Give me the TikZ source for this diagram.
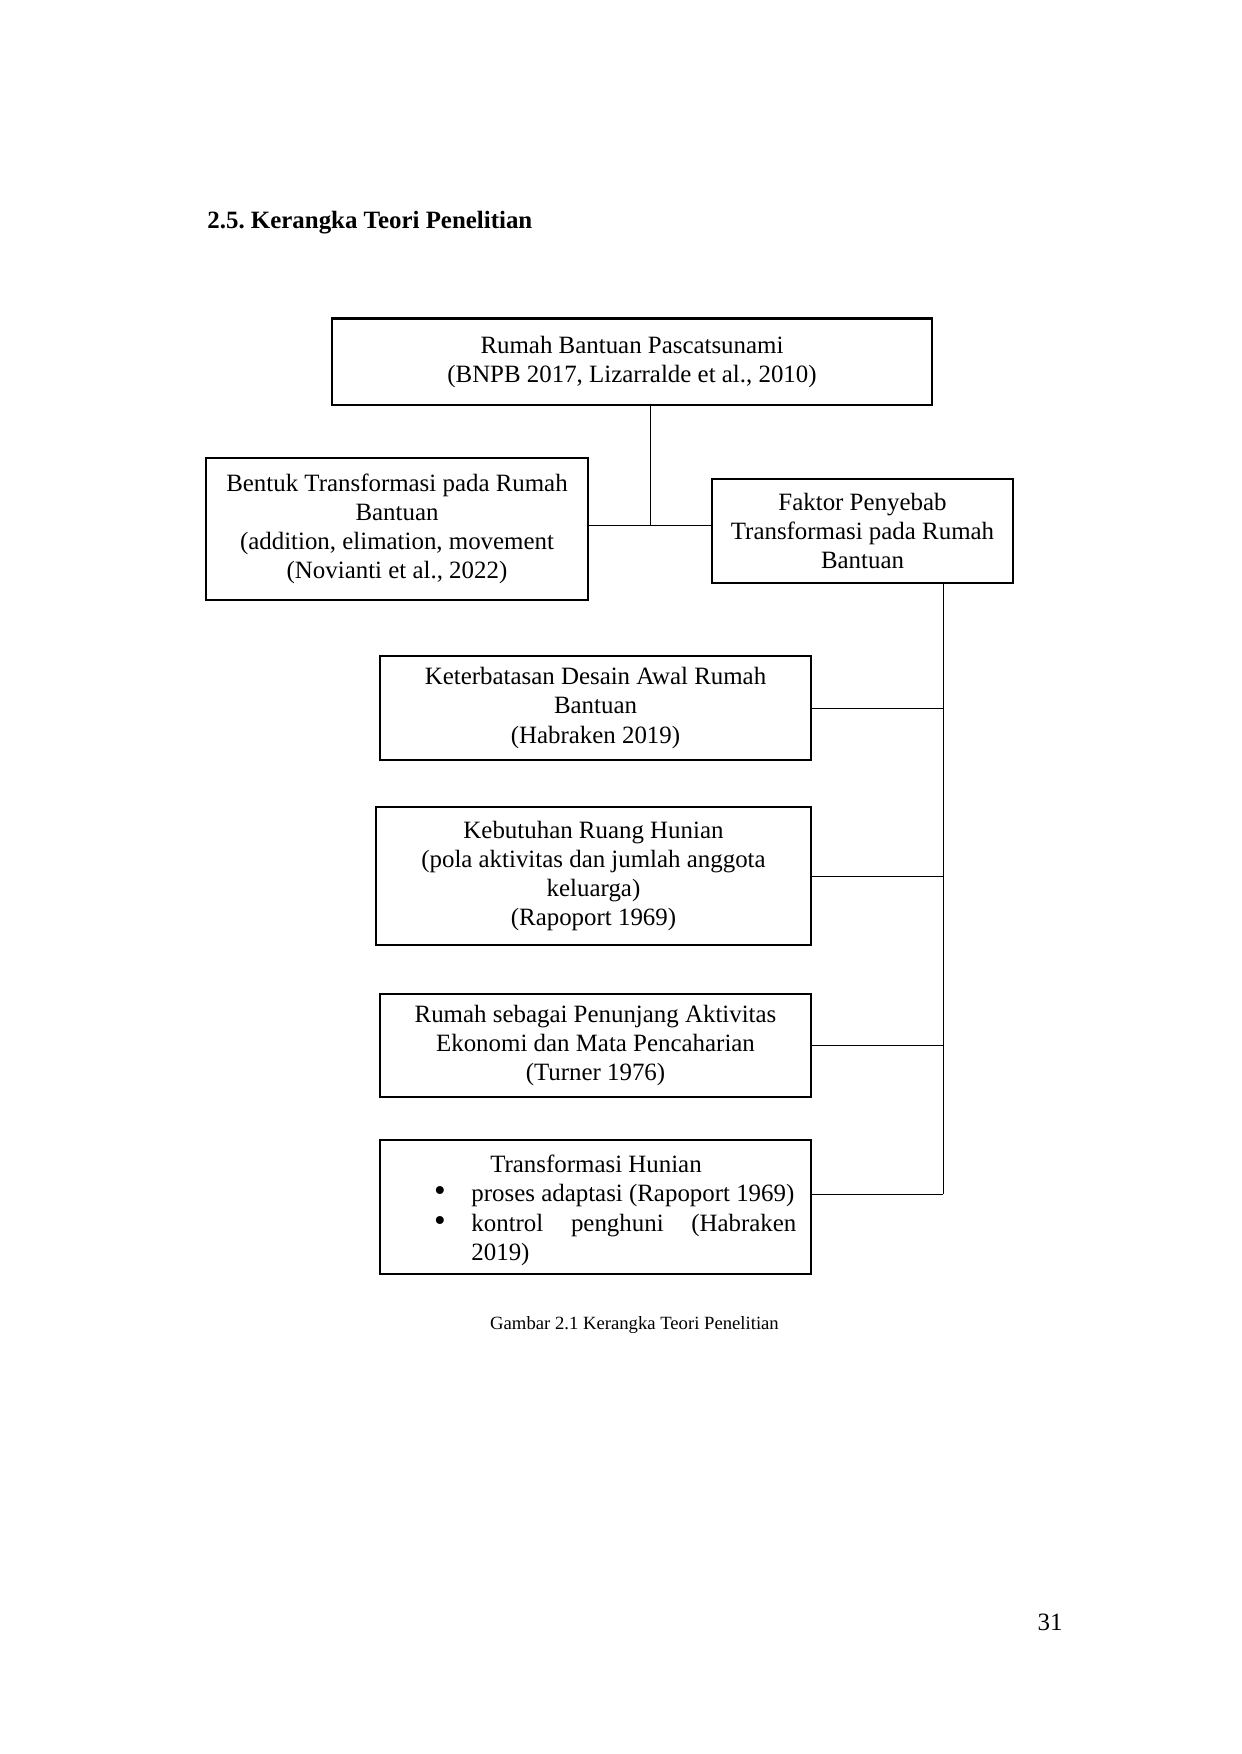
\documentclass[tikz,border=0pt]{standalone}
\usepackage{fontspec}
\setmainfont{Liberation Serif}
\newcommand\pxu{0.016933cm}
\begin{document}
\frenchspacing
\begin{tikzpicture}[x=0.016933cm,y=-0.016933cm,
  box/.style={draw, line width=0.5pt, align=center, inner sep=0pt,
    font=\fontsize{12}{14}\selectfont},
  txt/.style={inner sep=0pt, font=\fontsize{12}{14}\selectfont},
  conn/.style={line width=0.45pt}]
\useasboundingbox (0,0) rectangle (1241,1754);

\node[txt, anchor=base west, font=\fontsize{12}{14}\selectfont\bfseries] (title) at (207,228) {2.5. Kerangka Teori Penelitian};

\node[box, minimum width=600*\pxu, minimum height=86*\pxu] (top) at (632,362)
  {Rumah Bantuan Pascatsunami\\(BNPB 2017, Lizarralde et al., 2010)};
\draw[line width=1.1pt] (top.north west) -- (top.north east);

\node[box, minimum width=382*\pxu, minimum height=142*\pxu] (bentuk) at (397,529)
  {Bentuk Transformasi pada Rumah\\Bantuan\\(addition, elimation, movement\\(Novianti et al., 2022)};

\node[box, minimum width=301*\pxu, minimum height=104*\pxu] (faktor) at (862.5,531)
  {Faktor Penyebab\\Transformasi pada Rumah\\Bantuan};

\node[box, minimum width=431*\pxu, minimum height=104*\pxu] (k1) at (595.5,708)
  {Keterbatasan Desain Awal Rumah\\Bantuan\\(Habraken 2019)};

\node[box, minimum width=435*\pxu, minimum height=138*\pxu] (k2) at (593.5,876)
  {Kebutuhan Ruang Hunian\\(pola aktivitas dan jumlah anggota\\keluarga)\\(Rapoport 1969)};

\node[box, minimum width=431*\pxu, minimum height=103*\pxu] (k3) at (595.5,1045.5)
  {Rumah sebagai Penunjang Aktivitas\\Ekonomi dan Mata Pencaharian\\(Turner 1976)};

\node[box, minimum width=431*\pxu, minimum height=134*\pxu] (k4) at (595.5,1207) {};
\node[txt, anchor=base] (k4a) at (596,1172) {Transformasi Hunian};
\node[txt, anchor=base] (b1) at (440,1201) {\fontsize{16}{16}\selectfont •};
\node[txt, anchor=base west] (k4b) at (471,1201) {proses adaptasi (Rapoport 1969)};
\node[txt, anchor=base] (b2) at (440,1231) {\fontsize{16}{16}\selectfont •};
\node[txt, anchor=base west] (k4c) at (471,1231) {\hbox to 325\dimexpr\pxu\relax{kontrol\hfill penghuni\hfill (Habraken}};
\node[txt, anchor=base west] (k4d) at (471,1260) {2019)};

% connectors
\coordinate (j) at (650,525);
\coordinate (sp) at (943,1194);
\draw[conn] (j |- top.south) -- (j);
\draw[conn] (bentuk.east |- j) -- (faktor.west |- j);
\draw[conn] (sp |- faktor.south) -- (sp);
\draw[conn] (k1.east) -- (k1.east -| sp);
\draw[conn] (k2.east) -- (k2.east -| sp);
\draw[conn] (k3.east) -- (k3.east -| sp);
\draw[conn] (k4.east |- sp) -- (sp);

\node[txt, anchor=base, font=\fontsize{9}{11}\selectfont] (cap) at (634.5,1329) {Gambar 2.1 Kerangka Teori Penelitian};
\node[txt, anchor=base] (pg) at (1050,1630) {31};
\end{tikzpicture}
\end{document}
